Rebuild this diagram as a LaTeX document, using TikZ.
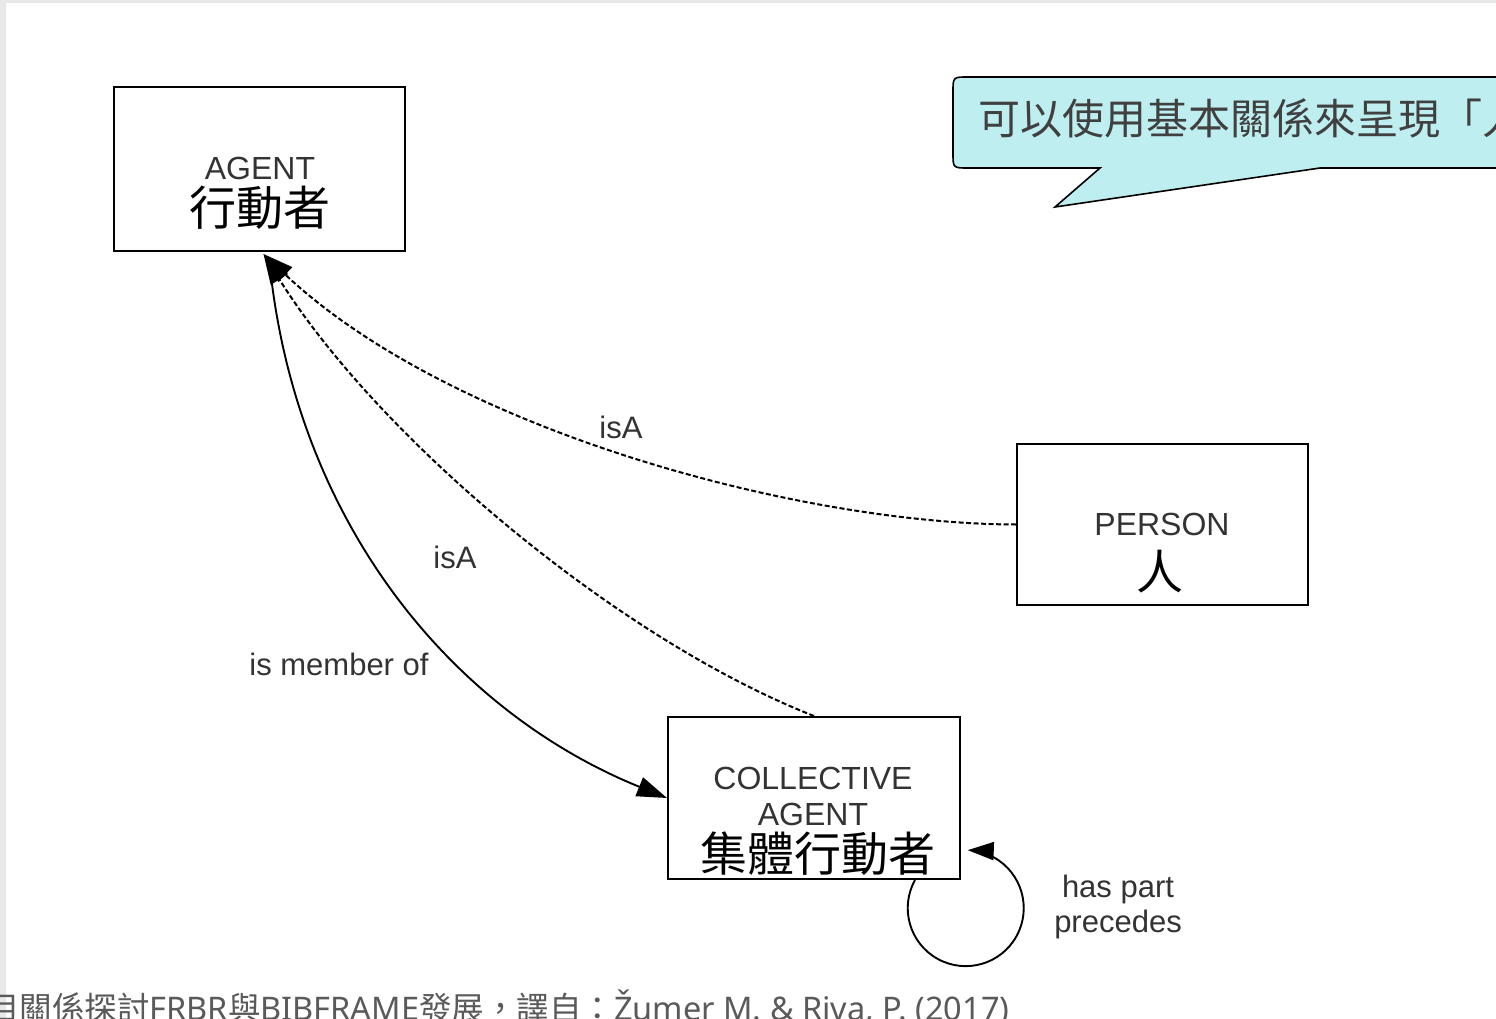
\documentclass[tikz,border=0pt]{standalone}
\usepackage{fontspec}
\setmainfont{Liberation Sans}
\newfontfamily\cjk{Noto Sans CJK TC}
\newfontfamily\capl{Noto Sans}
\usetikzlibrary{arrows.meta,calc}
\definecolor{calloutfill}{RGB}{190,238,239}
\definecolor{txtgray}{RGB}{64,64,64}
\definecolor{capgray}{RGB}{90,90,90}
\definecolor{framegray}{RGB}{232,232,232}
\begin{document}
\begin{tikzpicture}[x=1pt,y=-1pt,
  ent/.style={draw=black, line width=2pt, inner sep=0pt, fill=white},
  en/.style={font=\fontsize{32}{37}\selectfont, text=black!80, inner sep=0pt},
  zh/.style={font=\cjk\fontsize{47}{50}\selectfont, inner sep=0pt},
  lbl/.style={font=\fontsize{31}{37}\selectfont, text=black!80, inner sep=0pt, align=center},
  headtip/.style={-{Triangle[length=30pt,width=20pt]}},
  isa/.style={line width=2pt, dash pattern=on 5pt off 2.5pt, headtip},
  rel/.style={line width=1.9pt},
]
\useasboundingbox (0,0) rectangle (1496,1019);
\begin{scope}
\clip (0,0) rectangle (1496,1019);
\fill[white] (0,0) rectangle (1496,1019);
\fill[framegray] (0,0) rectangle (1496,3);
\fill[framegray] (0,0) rectangle (6,1019);

% entity boxes
\node[ent, minimum width=291pt, minimum height=164pt] (ag) at (259.5,169) {};
\node[ent, minimum width=291pt, minimum height=161pt] (ps) at (1162.5,524.5) {};
\node[ent, minimum width=292pt, minimum height=162pt] (ca) at (814,798) {};

\node[en] (agen) at (260,168) {AGENT};
\node[zh] (agzh) at (260,208) {行動者};
\node[en] (psen) at (1162,524) {PERSON};
\node[zh] (pszh) at (1160,572) {人};
\node[en] (caen1) at (813,778) {COLLECTIVE};
\node[en] (caen2) at (813,814) {AGENT};
\node[zh] (cazh) at (818,854) {集體行動者};

% connectors
\coordinate (tip) at ($(ag.south)+(4,2)$);
\draw[isa] (ps.west) .. controls (800,524) and (450,430) .. (tip);
\draw[isa] (ca.north) .. controls (620,640) and (380,440) .. (tip);
\draw[rel, headtip] ($(ag.south)+(10,10)$) .. controls (295,520) and (450,710) .. (ca.west);
\draw[rel, -{Triangle[length=26pt,width=18pt]}] ($(ca.south east)+(-46,0)$) arc[start angle=209, end angle=-88, radius=58];

% labels
\node[lbl] (l1) at (621,427) {isA};
\node[lbl] (l2) at (455,557) {isA};
\node[lbl] (l3) at (339,664) {is member of};
\node[lbl] (l4) at (1118,907) {has part\\[-2pt]precedes};

% callout
\draw[fill=calloutfill, line width=1.6pt]
  (1530,168) -- (1320,168) -- (1055,207) -- (1100,168) -- (968,168)
  .. controls (953,168) .. (953,153) -- (953,92)
  .. controls (953,77) .. (968,77) -- (1530,77);
\node[anchor=west, inner sep=0pt, font=\cjk\fontsize{42}{46}\selectfont, text=txtgray] (ct) at (978,118) {可以使用基本關係來呈現「人」};

% caption
\node[anchor=base west, inner sep=0pt, font=\cjk\fontsize{32.5}{34}\selectfont, text=capgray] (cap) at (-13,1020) {目關係探討{\capl FRBR}與{\capl BIBFRAME}發展，譯自：{\capl Žumer M. \& Riva, P. (2017)}};
\end{scope}
\end{tikzpicture}
\end{document}
